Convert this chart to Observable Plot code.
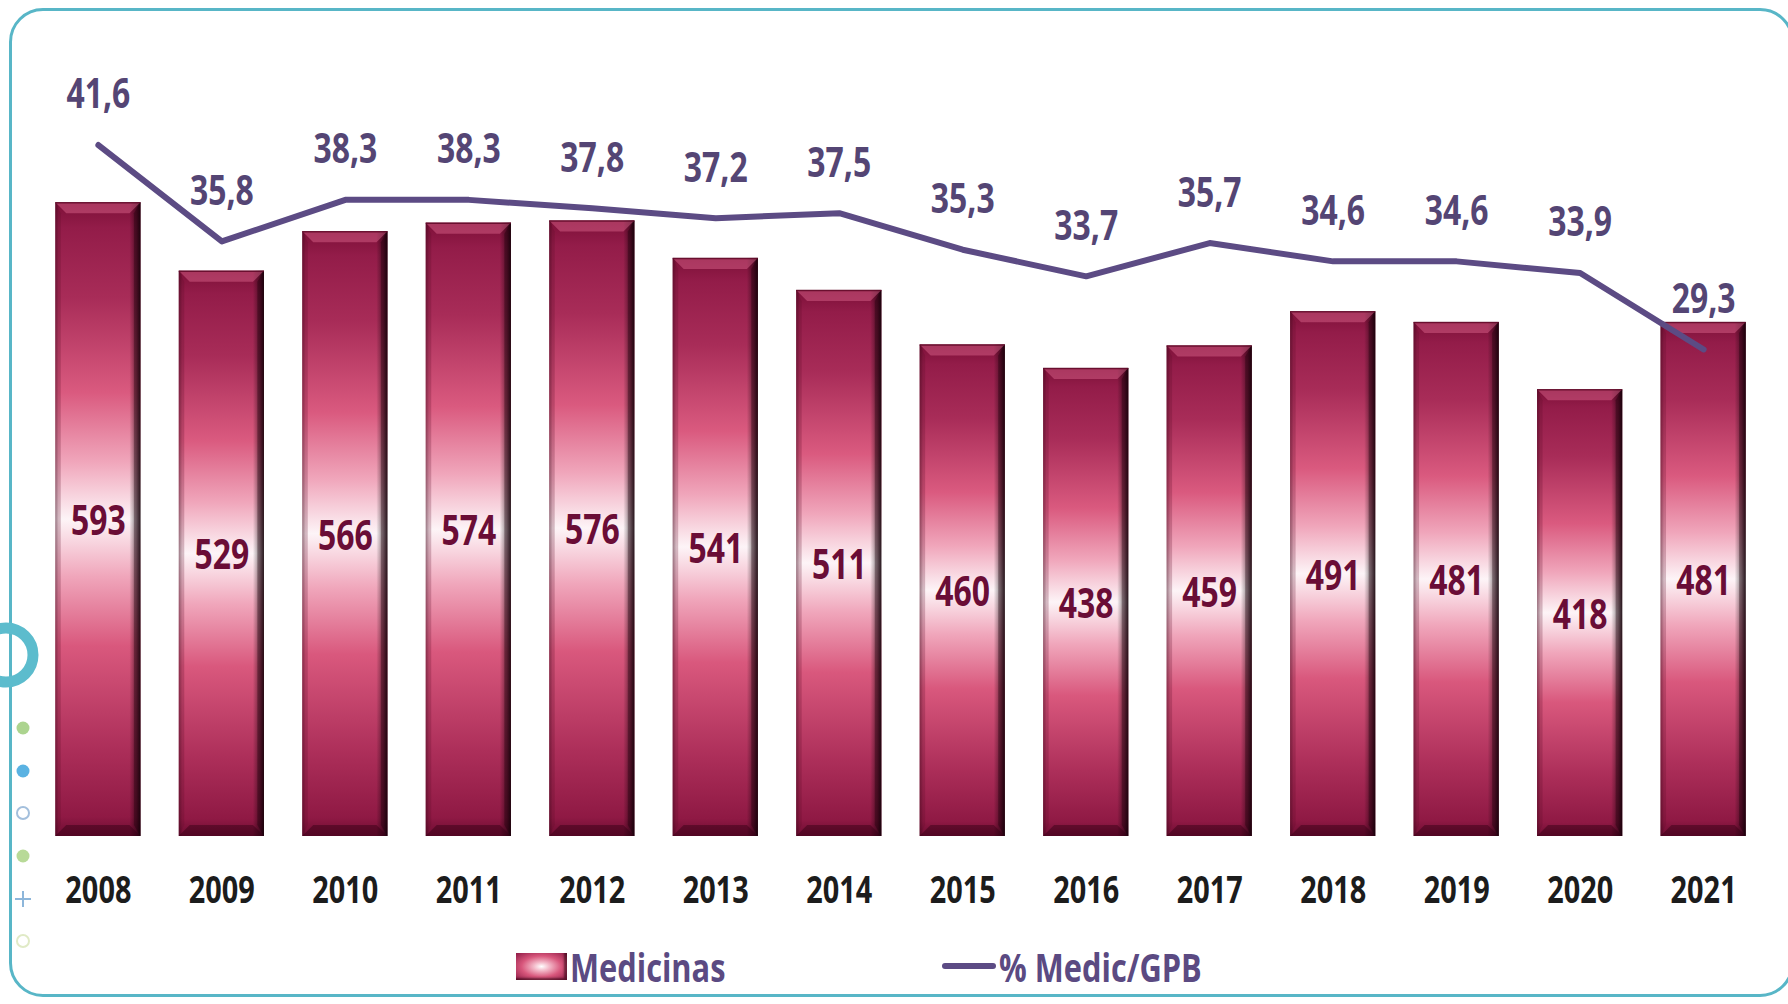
<!DOCTYPE html>
<html>
<head>
<meta charset="utf-8">
<script src="https://cdn.jsdelivr.net/npm/d3@7"></script>
<script src="https://cdn.jsdelivr.net/npm/@observablehq/plot@0.6"></script>
<style>
html,body{margin:0;padding:0;background:#fff;}
#wrap{position:relative;width:1788px;height:1004px;overflow:hidden;background:#fff;
  font-family:"Open Sans","Noto Sans",sans-serif;}
#frame{position:absolute;left:9px;top:8px;width:1785px;height:989px;border:3px solid #58b6c7;
  border-radius:34px;box-sizing:border-box;}
#deco{position:absolute;left:0;top:0;}
#chart{position:absolute;left:0;top:0;}
#legend{position:absolute;left:0;top:943px;width:1788px;height:46px;font-weight:bold;font-size:40px;color:#5b4a82;}
.item{position:absolute;top:0;height:46px;display:flex;align-items:center;white-space:nowrap;}
.item span{display:inline-block;transform:scaleX(0.77);transform-origin:0 50%;}
.swatch{width:51px;height:27px;margin-right:3px;
  background:radial-gradient(ellipse at 50% 50%,#ffffff 0%,#f3b8c8 22%,#d8577c 55%,#8e1a45 100%);
  box-shadow:inset -3px -2px 2px rgba(30,0,10,0.5);}
.lineSw{width:54px;height:6px;background:#5c4b84;border-radius:3px;margin-right:3px;}
</style>
</head>
<body>
<div id="wrap">
  <div id="frame"></div>
  <svg id="deco" width="60" height="1004"></svg>
  <div id="chart"></div>
  <div id="legend"></div>
</div>
<script>
// ---- data ----
const years = ["2008","2009","2010","2011","2012","2013","2014","2015","2016","2017","2018","2019","2020","2021"];
const medicinas = [593, 529, 566, 574, 576, 541, 511, 460, 438, 459, 491, 481, 418, 481];
const pctMedicGPB = [41.6, 35.8, 38.3, 38.3, 37.8, 37.2, 37.5, 35.3, 33.7, 35.7, 34.6, 34.6, 33.9, 29.3];
const seriesNames = ["Medicinas", "% Medic/GPB"];

// secondary axis: percentage domain mapped onto bar domain
const barMax = 700, pctMax = 45;
const pctToBar = d3.scaleLinear().domain([0, pctMax]).range([0, barMax]);
const fmt = v => v.toFixed(1).replace(".", ",");

const data = years.map((year, i) => ({
  year,
  med: medicinas[i],
  pct: pctMedicGPB[i],
  pctY: pctToBar(pctMedicGPB[i]),
  pctLabel: fmt(pctMedicGPB[i])
}));

const FONT = '"Open Sans","Noto Sans",sans-serif';

const chart = Plot.plot({
  width: 1788,
  height: 925,
  marginTop: 88,
  marginBottom: 89,
  marginLeft: 17,
  marginRight: 4,
  style: {fontFamily: FONT, fontSize: "38px", fontWeight: "bold", color: "#1c1c1c", background: "transparent", overflow: "visible"},
  x: {domain: years, padding: 0.31, round: false, tickSize: 0, tickPadding: 40, label: null},
  y: {domain: [0, barMax], axis: null},
  marks: [
    Plot.barY(data, {x: "year", y: "med", fill: "url(#barGrad)"}),
    Plot.barY(data, {x: "year", y: "med", fill: "url(#barShade)"}),
    Plot.text(data, {x: "year", y: d => d.med / 2, text: d => String(d.med), fill: "#6a0d36",
      fontSize: 42, fontWeight: "bold", dy: 2}),
    Plot.line(data, {x: "year", y: "pctY", stroke: "#5c4b84", strokeWidth: 6,
      strokeLinejoin: "round", strokeLinecap: "round"}),
    Plot.text(data, {x: "year", y: "pctY", text: "pctLabel", dy: -50, fill: "#544574",
      fontSize: 42, fontWeight: "bold"})
  ]
});
document.getElementById("chart").appendChild(chart);

// condense all chart text horizontally (the original typeface is a narrow one)
chart.querySelectorAll("text").forEach(t => {
  const bb = t.getBBox();
  const cx = bb.x + bb.width / 2;
  const s = 0.76;
  const tr = t.getAttribute("transform") || "";
  t.setAttribute("transform", `${tr} translate(${cx},0) scale(${s},1) translate(${-cx},0)`);
});

// gradients
const svg = d3.select(chart);
const defs = svg.insert("defs", ":first-child");
const vg = defs.append("linearGradient").attr("id", "barGrad").attr("x1", 0).attr("y1", 0).attr("x2", 0).attr("y2", 1);
[["0%","#7d1038"],["4%","#931c49"],["15%","#a82c58"],["30%","#da5a7f"],["41%","#f0a6bb"],
 ["50%","#fdf4f7"],["59%","#f0a6bb"],["70%","#d9587d"],["86%","#ad2f5a"],["97%","#8f1944"],["100%","#6c0c31"]]
  .forEach(([o,c]) => vg.append("stop").attr("offset", o).attr("stop-color", c));
const hg = defs.append("linearGradient").attr("id", "barShade").attr("x1", 0).attr("y1", 0).attr("x2", 1).attr("y2", 0);
[["0%","rgba(40,0,15,0.35)"],["4%","rgba(0,0,0,0)"],["87%","rgba(0,0,0,0)"],["95%","rgba(20,0,10,0.45)"],["100%","rgba(10,0,5,0.85)"]]
  .forEach(([o,c]) => hg.append("stop").attr("offset", o).attr("stop-color", c));

// bevels derived from the rendered bars
const barGroups = chart.querySelectorAll('g[aria-label="bar"]');
const bev = document.createElementNS("http://www.w3.org/2000/svg", "g");
barGroups[0].querySelectorAll("rect").forEach(r => {
  const x = +r.getAttribute("x"), y = +r.getAttribute("y"), w = +r.getAttribute("width"), h = +r.getAttribute("height");
  const b = 11;
  const polys = [
    [[x,y],[x+w,y],[x+w-b,y+b],[x+b,y+b], "rgba(225,105,145,0.45)"],
    [[x+w,y],[x+w,y+h],[x+w-b*0.6,y+h-b],[x+w-b*0.6,y+b], "rgba(25,0,10,0.35)"],
    [[x,y+h],[x+w,y+h],[x+w-b,y+h-b],[x+b,y+h-b], "rgba(50,0,20,0.45)"],
    [[x,y],[x+b*0.5,y+b],[x+b*0.5,y+h-b],[x,y+h], "rgba(90,10,40,0.25)"]
  ];
  polys.forEach(p => {
    const el = document.createElementNS("http://www.w3.org/2000/svg", "polygon");
    el.setAttribute("points", p.slice(0,4).map(q => q.join(",")).join(" "));
    el.setAttribute("fill", p[4]);
    bev.appendChild(el);
  });
  const top = document.createElementNS("http://www.w3.org/2000/svg", "line");
  top.setAttribute("x1", x); top.setAttribute("x2", x + w); top.setAttribute("y1", y + 0.5); top.setAttribute("y2", y + 0.5);
  top.setAttribute("stroke", "rgba(90,5,35,0.8)"); top.setAttribute("stroke-width", 1.5);
  bev.appendChild(top);
});
barGroups[1].after(bev);

// legend
const legend = d3.select("#legend");
const i1 = legend.append("div").attr("class", "item").style("left", "516px");
i1.append("div").attr("class", "swatch");
i1.append("span").text(seriesNames[0]);
const i2 = legend.append("div").attr("class", "item").style("left", "942px");
i2.append("div").attr("class", "lineSw");
i2.append("span").text(seriesNames[1]);

// decorative template marks on the left edge
const deco = d3.select("#deco");
deco.append("circle").attr("cx", 6).attr("cy", 655).attr("r", 27).attr("fill", "none").attr("stroke", "#5cbccd").attr("stroke-width", 11);
deco.append("circle").attr("cx", 23).attr("cy", 728).attr("r", 6.5).attr("fill", "#acd48f");
deco.append("circle").attr("cx", 23).attr("cy", 771).attr("r", 6.5).attr("fill", "#5ab2e2");
deco.append("circle").attr("cx", 23).attr("cy", 813).attr("r", 6).attr("fill", "none").attr("stroke", "#a3bfdc").attr("stroke-width", 2);
deco.append("circle").attr("cx", 23).attr("cy", 856).attr("r", 6.5).attr("fill", "#b8da98");
deco.append("path").attr("d", "M15,899H31M23,891V907").attr("stroke", "#8db6da").attr("stroke-width", 2);
deco.append("circle").attr("cx", 23).attr("cy", 941).attr("r", 6).attr("fill", "none").attr("stroke", "#e0eac6").attr("stroke-width", 2);
</script>
</body>
</html>
